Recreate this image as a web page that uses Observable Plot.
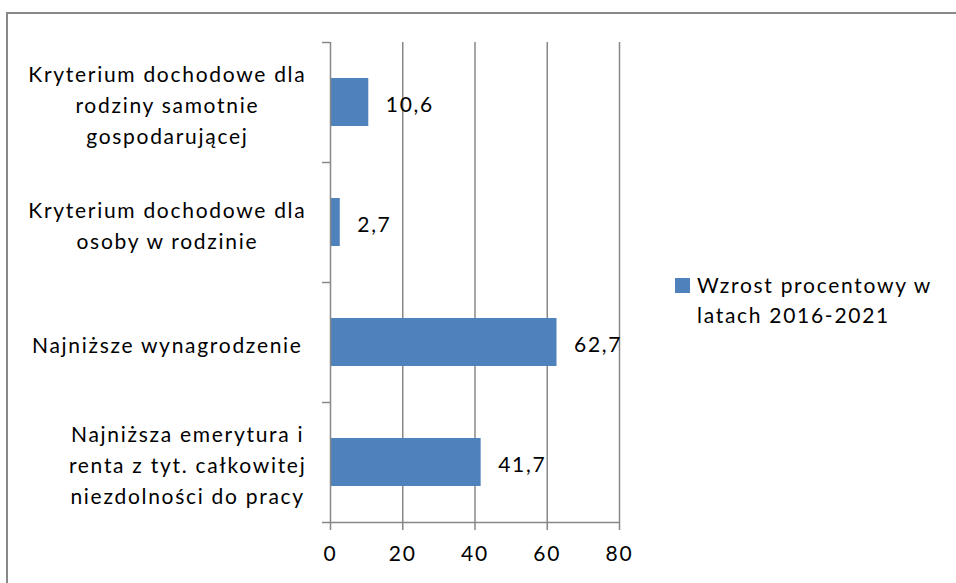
<!DOCTYPE html>
<html>
<head>
<meta charset="utf-8">
<script src="https://cdn.jsdelivr.net/npm/d3@7"></script>
<script src="https://cdn.jsdelivr.net/npm/@observablehq/plot@0.6"></script>
<style>
  html, body { margin: 0; padding: 0; background: #fff; overflow: hidden; width: 956px; height: 583px; }
  #wrap { position: relative; width: 956px; height: 583px; }
  #border { position: absolute; left: 6px; top: 12px; width: 960px; height: 600px; border: 2px solid #888; pointer-events: none; }
  #legend { position: absolute; left: 675px; top: 270px; font-family: Lato, sans-serif; font-size: 21px; line-height: 30px; color: #000; }
  #legend .sw { position: absolute; left: 0; top: 8px; width: 15px; height: 15px; background: #4F81BD; }
  #legend .tx { margin-left: 22px; white-space: pre; }
</style>
</head>
<body>
<div id="wrap">
  <div id="chart"></div>
  <div id="legend"></div>
  <div id="border"></div>
</div>
<script>
const categories = [
  "Kryterium dochodowe dla rodziny samotnie gospodarującej",
  "Kryterium dochodowe dla osoby w rodzinie",
  "Najniższe wynagrodzenie",
  "Najniższa emerytura i renta z tyt. całkowitej niezdolności do pracy"
];
const tickLabels = [
  "Kryterium dochodowe dla\nrodziny samotnie\ngospodarującej",
  "Kryterium dochodowe dla\nosoby w rodzinie",
  "Najniższe wynagrodzenie ",
  "Najniższa emerytura i\nrenta z tyt. całkowitej\nniezdolności do pracy"
];
const values = [10.6, 2.7, 62.7, 41.7];
const valueLabels = ["10,6", "2,7", "62,7", "41,7"];
const xTicks = [0, 20, 40, 60, 80];
const seriesName = "Wzrost procentowy w\nlatach 2016-2021";

const data = categories.map((c, i) => ({cat: c, value: values[i], label: valueLabels[i], tick: tickLabels[i]}));

const FONT = "Lato, sans-serif";
const FS = 21;
const gray = "#888888";
const W = 956, H = 583;
const mL = 330, mR = 337, mT = 42, mB = 61;
const step = (H - mT - mB) / categories.length;

// match the reference's wider text by letter spacing
const ctx = document.createElement("canvas").getContext("2d");
ctx.font = `${FS}px Lato`;
const refLine = "Kryterium dochodowe dla";
const LS = Math.max(0, (278 - ctx.measureText(refLine).width) / refLine.length);
const lineW = l => ctx.measureText(l.trimEnd()).width + l.trimEnd().length * LS;
const blockW = s => Math.max(...s.split("\n").map(lineW));

const st = document.createElement("style");
st.textContent = `#chart svg text, #legend { letter-spacing: ${LS.toFixed(2)}px; }`;
document.head.appendChild(st);

const labelMarks = data.map(d => Plot.text([d], {
  y: "cat", text: "tick", frameAnchor: "left", textAnchor: "middle",
  lineHeight: 31 / FS, fontSize: FS, fill: "#000",
  dx: -(mL - 305) - blockW(d.tick) / 2 + LS / 2, dy: 1
}));

const chart = Plot.plot({
  width: W, height: H,
  marginLeft: mL, marginRight: mR, marginTop: mT, marginBottom: mB,
  style: {fontFamily: FONT, fontSize: FS + "px", background: "#fff", color: "#000", overflow: "visible"},
  x: {domain: [0, 80], ticks: xTicks, label: null},
  y: {domain: categories, paddingInner: 0.6, paddingOuter: 0.3, axis: null, label: null},
  marks: [
    Plot.ruleX(xTicks.slice(1), {stroke: gray, strokeWidth: 1.5, insetBottom: -8}),
    Plot.barX(data, {y: "cat", x: "value", fill: "#4F81BD"}),
    Plot.ruleX([0], {stroke: gray, strokeWidth: 1.5, insetBottom: -8}),
    Plot.ruleY(data, {y: "cat", x1: 0, x2: 0, insetLeft: -8, dy: -step / 2, stroke: gray, strokeWidth: 1.5}),
    Plot.ruleY(data.slice(-1), {y: "cat", x1: 0, x2: 80, insetLeft: -8, dy: step / 2, stroke: gray, strokeWidth: 1.5}),
    Plot.axisX({ticks: xTicks, tickSize: 0, tickPadding: 24, fontSize: FS, fill: "#000", tickFormat: d => String(d), label: null}),
    Plot.text(data, {y: "cat", x: "value", text: "label", textAnchor: "start", dx: 17, dy: 3, fontSize: FS, fill: "#000"}),
    ...labelMarks
  ]
});
document.getElementById("chart").appendChild(chart);

const lg = document.getElementById("legend");
lg.innerHTML = `<div class="sw"></div><div class="tx"></div>`;
lg.querySelector(".tx").textContent = seriesName;
</script>
</body>
</html>
